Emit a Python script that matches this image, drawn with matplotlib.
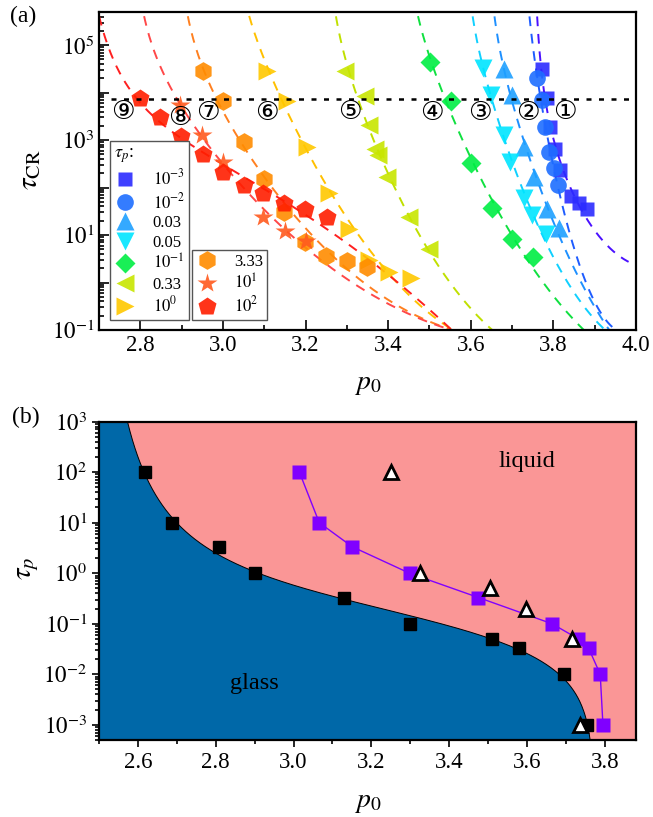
import numpy as np
import matplotlib
matplotlib.use("Agg")
import matplotlib.pyplot as plt

plt.rcParams['font.family'] = ['Liberation Serif', 'DejaVu Sans']
plt.rcParams['mathtext.fontset'] = 'stix'
SERIF = 'Liberation Serif'

# ---------- panel (a) data: tau_CR vs p0, one series per tau_p ----------
labels = [r'$10^{-3}$', r'$10^{-2}$', '0.03', '0.05', r'$10^{-1}$',
          '0.33', r'$10^{0}$', '3.33', r'$10^{1}$', r'$10^{2}$']

p_1e3 = [3.772, 3.784, 3.792, 3.804, 3.816, 3.842, 3.863, 3.881]
t_1e3 = [3.2e4, 7.7e3, 1.9e3, 650, 235, 65, 47, 35]
p_1e2 = [3.761, 3.773, 3.779, 3.789, 3.802, 3.811]
t_1e2 = [2.0e4, 7.1e3, 1.9e3, 575, 257, 115]
p_003 = [3.680, 3.700, 3.730, 3.753, 3.785, 3.813]
t_003 = [3.1e4, 9.1e3, 733, 170, 36, 14]
p_005 = [3.630, 3.650, 3.680, 3.696, 3.729, 3.749, 3.781]
t_005 = [3.3e4, 9.1e3, 1.3e3, 350, 59, 26, 10.7]
p_1e1 = [3.501, 3.551, 3.601, 3.652, 3.700, 3.750]
t_1e1 = [4.4e4, 6.6e3, 323, 38, 8.1, 3.4]
p_033 = [3.296, 3.345, 3.353, 3.367, 3.375, 3.397, 3.450, 3.498]
t_033 = [2.8e4, 8.3e3, 2.1e3, 650, 480, 170, 24, 5.2]
p_1e0 = [3.106, 3.155, 3.203, 3.256, 3.306, 3.353, 3.403, 3.455]
t_1e0 = [2.8e4, 6.6e3, 733, 76, 13.5, 3.0, 1.7, 1.26]
p_333 = [2.951, 3.001, 3.052, 3.100, 3.147, 3.199, 3.250, 3.300, 3.348]
t_333 = [2.8e4, 6.6e3, 910, 151, 31, 7.0, 3.6, 2.9, 2.1]
p_10 = [2.896, 2.950, 3.000, 3.098, 3.151, 3.200]
t_10 = [5.6e3, 1.3e3, 340, 24, 12, 7.5]
p_100 = [2.799, 2.848, 2.898, 2.951, 3.001, 3.050, 3.098, 3.149, 3.199, 3.252]
t_100 = [7.7e3, 3.1e3, 1.2e3, 515, 210, 112, 76, 47, 36, 24]

series_p = [p_1e3, p_1e2, p_003, p_005, p_1e1, p_033, p_1e0, p_333, p_10, p_100]
series_t = [t_1e3, t_1e2, t_003, t_005, t_1e1, t_033, t_1e0, t_333, t_10, t_100]

# dashed fit curves: left asymptote, where they leave the top and where they end
fit_p1 = [3.74, 3.72, 3.63, 3.58, 3.43, 3.24, 3.02, 2.87, 2.76, 2.60]
fit_top = [3.760, 3.741, 3.656, 3.603, 3.470, 3.272, 3.066, 2.913, 2.807, 2.702]
fit_top_tau = [5e5, 5e5, 5e5, 5e5, 5e5, 5e5, 3.5e5, 5e5, 5e5, 3.5e5]
fit_end = [3.982, 3.952, 3.935, 3.925, 3.873, 3.652, 3.553, 3.553, 3.553, 3.553]
fit_end_tau = [2.7, 0.1, 0.1, 0.1, 0.1, 0.1, 0.1, 0.1, 0.1, 0.1]

markers = ['s', 'o', '^', 'v', 'D', '<', '>', 'h', '*', 'p']
msizes = [10.5, 12, 12.5, 12.5, 10.5, 12.5, 12.5, 13.5, 15, 13.5]
colors = ['#2b2bff', '#1e6eff', '#1ea0ff', '#00e5ff', '#00ee44',
          '#c8e600', '#ffc800', '#ff8c00', '#ff5a1e', '#ff1e00']
line_colors = ['#4a10ff', '#1e5cff', '#1e90ff', '#10d0ff', '#10e040',
               '#c0e000', '#ffc000', '#ff8020', '#ff4848', '#ff2020']

tau_line = 7.5e3
circ_text = ['①', '②', '③', '④', '⑤', '⑥', '⑦', '⑧', '⑨']
circ_x = [3.827, 3.738, 3.622, 3.507, 3.308, 3.106, 2.963, 2.895, 2.759]
circ_y = [4.0e3, 3.8e3, 3.8e3, 3.8e3, 4.0e3, 3.8e3, 3.7e3, 2.9e3, 4.0e3]

# ---------- panel (b) data: phase diagram ----------
glass_tp = [100, 10, 3.33, 1, 0.33, 0.1, 0.05, 0.033, 0.01, 0.001]
glass_p0 = [2.617, 2.687, 2.808, 2.901, 3.130, 3.298, 3.509, 3.580, 3.694, 3.754]
purple_tp = [100, 10, 3.33, 1, 0.33, 0.1, 0.05, 0.033, 0.01, 0.001]
purple_p0 = [3.015, 3.066, 3.151, 3.298, 3.475, 3.664, 3.732, 3.758, 3.788, 3.795]
tri_tp = [100, 1, 0.5, 0.2, 0.05, 0.001]
tri_p0 = [3.250, 3.325, 3.505, 3.597, 3.715, 3.735]
# boundary fit: left asymptote and right end of the glass region
bnd_x1, bnd_x2 = 2.45, 3.772


def fit_curve(p, t, p1, p_top, t_top, p_end, t_end):
    # weighted least squares of log tau on [1, p, p^2, 1/(p-p1)]
    p = np.concatenate([np.asarray(p, float), [p_top, p_end]])
    y = np.concatenate([np.log10(t), np.log10([t_top, t_end])])
    w = np.ones_like(p)
    w[-2:] = 3.0
    cols = [np.ones_like(p), p, p ** 2, 1.0 / (p - p1)]
    A = np.column_stack(cols)
    c = np.linalg.lstsq(A * w[:, None], y * w, rcond=None)[0]
    if c[3] <= 0:
        A = np.column_stack([cols[0], cols[1], cols[3]])
        c3 = np.linalg.lstsq(A * w[:, None], y * w, rcond=None)[0]
        c = np.array([c3[0], c3[1], 0.0, c3[2]])
    xs = np.linspace(p1 + 0.002, p_end, 400)
    return xs, 10 ** (c[0] + c[1] * xs + c[2] * xs ** 2 + c[3] / (xs - p1))


fig = plt.figure(figsize=(6.53, 8.17), dpi=100)
ax1 = fig.add_axes([0.1516, 0.5961, 0.8224, 0.3892])
ax2 = fig.add_axes([0.1516, 0.0943, 0.8224, 0.3896])

# ----- panel (a) -----
handles = []
for i in range(len(series_p)):
    xs, ys = fit_curve(series_p[i], series_t[i], fit_p1[i], fit_top[i], fit_top_tau[i],
                       fit_end[i], fit_end_tau[i])
    ax1.plot(xs, ys, ls=(0, (5, 4)), lw=1.4, color=line_colors[i], zorder=2)
for i in range(len(series_p)):
    h, = ax1.plot(series_p[i], series_t[i], ls='none', marker=markers[i],
                  ms=msizes[i], color=colors[i], mec='none', alpha=0.9, zorder=3)
    handles.append(h)

ax1.hlines(tau_line, 2.728, 3.982, colors='k', linestyles=(0, (2, 3)), lw=1.8, zorder=4)
for s, x, y in zip(circ_text, circ_x, circ_y):
    ax1.text(x, y, s, ha='center', va='center', fontsize=19,
             family=['DejaVu Sans', 'Noto Sans CJK JP'], zorder=5)

ax1.set_xlim(2.7, 4.0)
ax1.set_yscale('log')
ax1.set_ylim(0.1, 5e5)
ax1.set_xticks(np.arange(2.8, 4.01, 0.2))
ax1.set_xticks(np.arange(2.7, 4.01, 0.1), minor=True)
ax1.set_xticklabels(['2.8', '3.0', '3.2', '3.4', '3.6', '3.8', '4.0'], fontfamily=SERIF)
ax1.set_yticks([1e-1, 1, 1e1, 1e2, 1e3, 1e4, 1e5])
ax1.set_yticklabels([r'$10^{-1}$', '', r'$10^{1}$', '', r'$10^{3}$', '', r'$10^{5}$'])
ax1.yaxis.set_minor_locator(matplotlib.ticker.LogLocator(base=10, subs=np.arange(2, 10), numticks=20))
ax1.yaxis.set_minor_formatter(matplotlib.ticker.NullFormatter())
ax1.tick_params(which='both', direction='in', labelsize=16.5, width=1.2)
ax1.tick_params(which='major', length=7)
ax1.tick_params(which='minor', length=3.5)
for sp in ax1.spines.values():
    sp.set_linewidth(1.6)

leg_kw = dict(loc='lower left', borderaxespad=0, fontsize=12, fancybox=False,
              edgecolor='#555555', framealpha=1, labelspacing=0.2,
              handletextpad=1.0, borderpad=0.25, handlelength=1.3)
leg1 = ax1.legend(handles[:7], labels[:7], bbox_to_anchor=(0.0205, 0.0314),
                  title=r'$\tau_p$:', title_fontsize=13, alignment='left', **leg_kw)
leg1.get_frame().set_linewidth(1.0)
ax1.add_artist(leg1)
leg2 = ax1.legend(handles[7:], labels[7:], bbox_to_anchor=(0.1726, 0.0314), **leg_kw)
leg2.get_frame().set_linewidth(1.0)
for leg in (leg1, leg2):
    for t in leg.get_texts():
        t.set_fontfamily(SERIF)

# ----- panel (b) -----
ax2.set_facecolor('#fa9696')
gx = np.asarray(glass_p0)
B = np.column_stack([np.ones_like(gx), gx, 1.0 / (gx - bnd_x1), np.log10(bnd_x2 - gx)])
cb = np.linalg.lstsq(B, np.log10(glass_tp), rcond=None)[0]
xx = np.linspace(bnd_x1 + 0.002, bnd_x2 - 1e-6, 800)
yb = 10 ** (cb[0] + cb[1] * xx + cb[2] / (xx - bnd_x1) + cb[3] * np.log10(bnd_x2 - xx))
ax2.fill_between(xx, 1e-6, yb, color='#0068a8', lw=0, zorder=1)
ax2.fill_between([2.4, bnd_x1 + 0.002], 1e-6, 1e6, color='#0068a8', lw=0, zorder=1)
ax2.plot(xx, yb, color='k', lw=0.7, zorder=2)

ax2.plot(purple_p0, purple_tp, color='#8000ff', lw=1.0, marker='s', ms=9.5,
         mfc='#8000ff', mec='none', zorder=3)
ax2.plot(glass_p0, glass_tp, ls='none', marker='s', ms=9, color='k', zorder=4)
ax2.plot(tri_p0, tri_tp, ls='none', marker='^', ms=9.5, mfc='white', mec='k',
         mew=2.0, zorder=5)

ax2.text(3.60, 160, 'liquid', fontsize=17.5, ha='center', va='center')
ax2.text(2.90, 0.0065, 'glass', fontsize=17.5, ha='center', va='center')

ax2.set_xlim(2.5, 3.88)
ax2.set_yscale('log')
ax2.set_ylim(5e-4, 1e3)
ax2.set_xticks(np.arange(2.6, 3.81, 0.2))
ax2.set_xticks(np.arange(2.5, 3.86, 0.1), minor=True)
ax2.set_xticklabels(['2.6', '2.8', '3.0', '3.2', '3.4', '3.6', '3.8'], fontfamily=SERIF)
ax2.set_yticks([1e-3, 1e-2, 1e-1, 1, 1e1, 1e2, 1e3])
ax2.set_yticklabels([r'$10^{-3}$', r'$10^{-2}$', r'$10^{-1}$', r'$10^{0}$',
                     r'$10^{1}$', r'$10^{2}$', r'$10^{3}$'])
ax2.yaxis.set_minor_locator(matplotlib.ticker.LogLocator(base=10, subs=np.arange(2, 10), numticks=20))
ax2.yaxis.set_minor_formatter(matplotlib.ticker.NullFormatter())
ax2.tick_params(which='both', direction='out', labelsize=16.5, width=1.2)
ax2.tick_params(which='major', length=5)
ax2.tick_params(which='minor', length=3)
for sp in ax2.spines.values():
    sp.set_linewidth(1.6)

# axis labels and panel tags
fig.text(0.046, 0.792, r'$\tau_{\mathrm{CR}}$', rotation=90, ha='center', va='center', fontsize=21)
fig.text(0.5627, 0.529, r'$p_0$', ha='center', va='center', fontsize=20)
fig.text(0.043, 0.305, r'$\tau_p$', rotation=90, ha='center', va='center', fontsize=21)
fig.text(0.5627, 0.018, r'$p_0$', ha='center', va='center', fontsize=20)
fig.text(0.035, 0.980, '(a)', ha='center', va='center', fontsize=17, fontfamily=SERIF)
fig.text(0.040, 0.4896, '(b)', ha='center', va='center', fontsize=17, fontfamily=SERIF)

fig.savefig('out.png', dpi=100)
